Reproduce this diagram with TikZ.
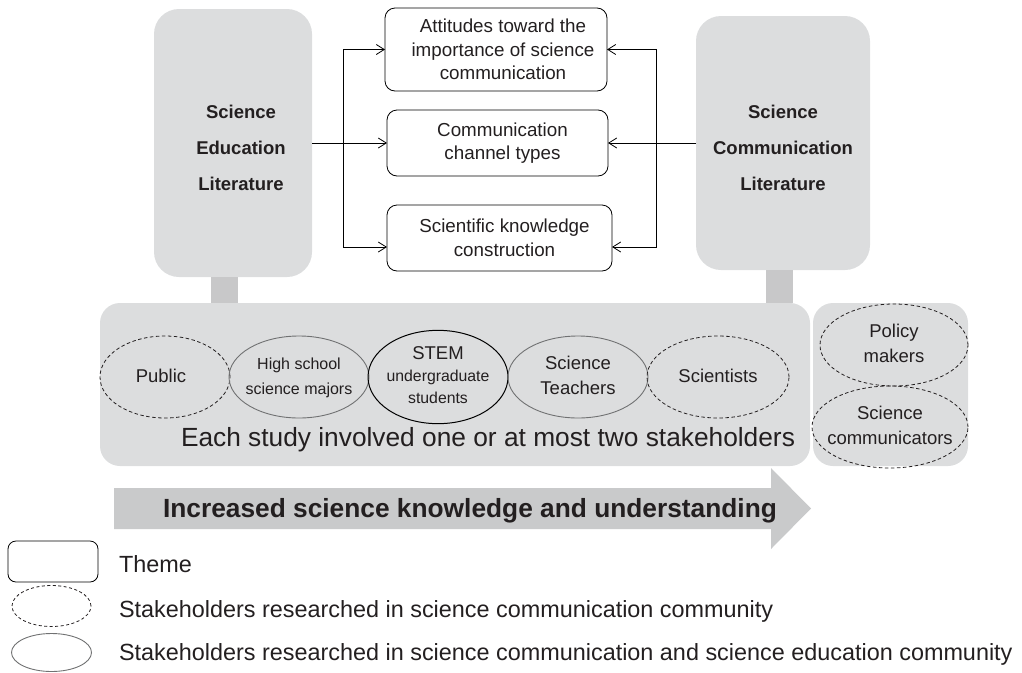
\documentclass[tikz,border=0pt]{standalone}
\usepackage{fontspec}
\setmainfont{Liberation Sans}
\usetikzlibrary{arrows.meta,shapes.geometric}
\definecolor{panel}{HTML}{DCDDDE}
\definecolor{stub}{HTML}{C8C8C9}
\definecolor{band}{HTML}{C9CACB}
\definecolor{ink}{HTML}{231F20}
\definecolor{rim}{HTML}{707172}
% label set inside an ellipse without widening it
\newcommand{\holdertext}[1]{\makebox[0pt]{\begin{tabular}{@{}c@{}}#1\end{tabular}}}

\begin{document}
\begin{tikzpicture}[x=1pt,y=-1pt,
  every node/.style={text=ink,inner sep=0pt,outer sep=0pt},
  litbox/.style={fill=panel,rounded corners=25pt,align=center,
    font=\fontsize{18.5}{36}\selectfont\bfseries},
  panelbox/.style={fill=panel,rounded corners=20pt},
  themebox/.style={draw=black,line width=0.8pt,rounded corners=10pt,align=center,
    font=\fontsize{18.8}{23.5}\selectfont},
  holder/.style={ellipse,minimum height=82pt,
    font=\fontsize{18.5}{25}\selectfont},
  sciencecomm/.style={holder,draw=ink,line width=0.8pt,dash pattern=on 3.5pt off 2.5pt},
  bothcomm/.style={holder,draw=rim,line width=0.9pt},
  corecomm/.style={holder,draw=black,line width=1pt},
  flow/.style={draw=black,line width=0.8pt,-{Straight Barb[length=8pt,width=10pt]}},
  stubline/.style={draw=stub,line width=27pt},
  legendtext/.style={anchor=base west,font=\fontsize{23.4}{23.4}\selectfont},
]
\useasboundingbox (0,0) rectangle (1022,672);

% ---- background panels ----
\node[panelbox,minimum width=710pt,minimum height=163pt] (stage) at (455,384.5) {};
\node[panelbox,minimum width=155pt,minimum height=163pt] (side) at (890.5,384.5) {};

% ---- the two bodies of literature ----
\node[litbox,minimum width=158pt,minimum height=268pt] (sel) at (233,143) {};
\node[litbox,anchor=center] (seltext) at (241,148) {Science\\Education\\Literature};
\node[litbox,minimum width=174pt,minimum height=254pt] (scl) at (783,143) {};
\node[litbox,anchor=center] (scltext) at (783,148) {Science\\Communication\\Literature};

% posts joining the literature boxes to the stakeholder panel
\draw[stubline] ([xshift=-9pt]sel.south) -- ([xshift=-9pt]sel.south |- stage.north);
\draw[stubline] ([xshift=-3.5pt]scl.south) -- ([xshift=-3.5pt]scl.south |- stage.north);

% ---- themes ----
\node[themebox,minimum width=222pt,minimum height=83pt] (t1) at (496,49.5)
  {\hspace*{14pt}Attitudes toward the\\\hspace*{14pt}importance of science\\\hspace*{14pt}communication};
\node[themebox,minimum width=221pt,minimum height=66pt] (t2) at (497.5,143)
  {\hspace*{10pt}Communication\\\hspace*{10pt}channel types};
\node[themebox,minimum width=225pt,minimum height=66pt] (t3) at (499.5,238)
  {\hspace*{10pt}Scientific knowledge\\\hspace*{10pt}construction};

% ---- connectors ----
\coordinate (lspine) at (343,143);
\coordinate (rspine) at (656,143);
\draw[flow] (sel.east) -- (t2.west);
\draw[flow] (lspine) |- (t1.west);
\draw[flow] (lspine) |- ([yshift=-9pt]t3.west);
\draw[flow] (scl.west) -- (t2.east);
\draw[flow] (rspine) |- (t1.east);
\draw[flow] (rspine) |- ([yshift=-9pt]t3.east);

% ---- stakeholders ----
\node[sciencecomm,minimum width=130pt] (public) at (165,377)
  {\raisebox{-3pt}{\holdertext{Public\hspace*{8pt}}}};
\node[bothcomm,minimum width=140pt,font=\fontsize{16}{25}\selectfont] (hs) at (299,377)
  {\holdertext{High school\\science majors}};
\node[corecomm,minimum width=140pt,font=\fontsize{15.8}{22}\selectfont] (stem) at (438,377)
  {\holdertext{{\fontsize{18.5}{22}\selectfont STEM}\\undergraduate\\students}};
\node[bothcomm,minimum width=140pt] (teach) at (578,377) {\holdertext{Science\\Teachers}};
\node[sciencecomm,minimum width=142pt] (sci) at (718,377) {\raisebox{-3pt}{\holdertext{Scientists}}};
\node[sciencecomm,minimum width=148pt] (policy) at (894,345) {\holdertext{Policy\\makers}};
\node[sciencecomm,minimum width=156pt] (comm) at (890,427) {\holdertext{Science\\communicators}};

\node[anchor=base,font=\fontsize{26.3}{26.3}\selectfont] (note) at (488,446)
  {Each study involved one or at most two stakeholders};

% ---- direction of increasing knowledge ----
\fill[band] (114,488) -- (771,488) -- (771,468) -- (811,508.5) -- (771,549)
  -- (771,529) -- (114,529) -- cycle;
\node[anchor=base,font=\fontsize{26.3}{26.3}\selectfont\bfseries] (gain) at (470,517)
  {Increased science knowledge and understanding};

% ---- legend ----
\node[draw=black,line width=0.8pt,rounded corners=8pt,minimum width=90pt,minimum height=41pt]
  (keytheme) at (53,561.5) {};
\node[ellipse,draw=ink,line width=0.8pt,dash pattern=on 3pt off 2.5pt,
  minimum width=79pt,minimum height=41pt] (keysc) at (51.5,606) {};
\node[ellipse,draw=rim,line width=0.9pt,minimum width=80pt,minimum height=38pt]
  (keyboth) at (51.5,652.5) {};
\node[legendtext] (lt1) at (119,572) {Theme};
\node[legendtext] (lt2) at (119,617) {Stakeholders researched in science communication community};
\node[legendtext] (lt3) at (119,660) {Stakeholders researched in science communication and science education community};
\end{tikzpicture}
\end{document}
